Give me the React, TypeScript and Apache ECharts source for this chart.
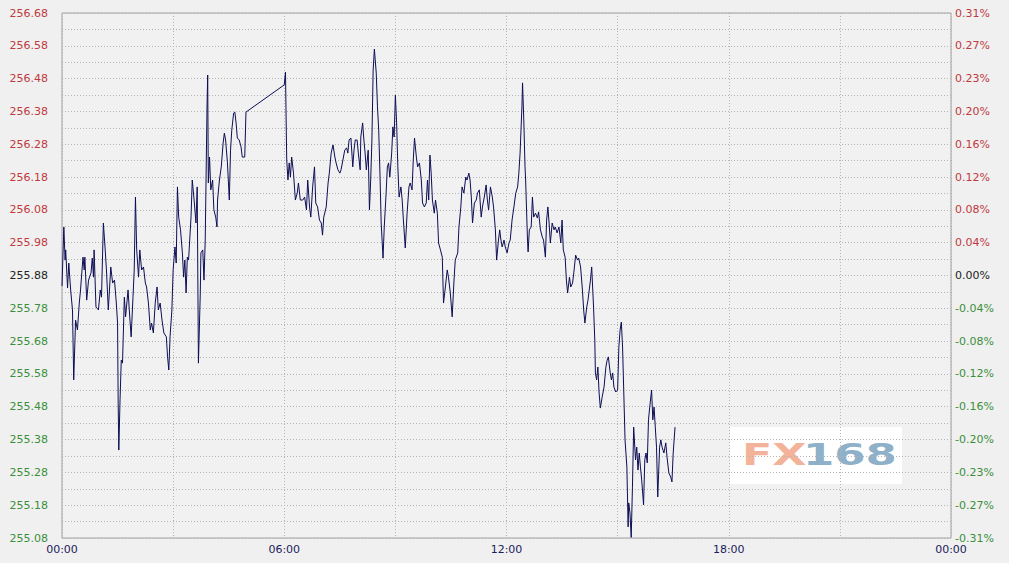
import React, { useEffect, useRef } from "react";
import * as echarts from "echarts";

// Reference price (previous close) used for percent axis
const BASE_PRICE = 255.88;
const PRICE_MIN = 255.08;
const PRICE_MAX = 256.68;
const PRICE_STEP = 0.1;

// Time of each point, minutes after 00:00
const MINUTES = [
  0, 3, 5, 6, 9, 11, 14, 17, 19, 22, 25, 28, 30, 34, 36, 37, 40, 43, 47, 49,
  51, 52, 55, 59, 62, 64, 67, 70, 72, 75, 79, 82, 85, 88, 90, 91, 92, 94, 96, 98,
  101, 103, 107, 109, 112, 115, 117, 119, 121, 124, 126, 129, 132, 135, 137, 140, 143, 145, 148, 151,
  154, 156, 159, 162, 165, 169, 171, 173, 175, 178, 180, 183, 185, 187, 189, 192, 195, 197, 199, 201,
  203, 205, 209, 211, 214, 217, 219, 221, 224, 225, 228, 230, 232, 235, 236, 237, 239, 241, 244, 246,
  249, 251, 252, 255, 258, 261, 263, 265, 268, 271, 273, 275, 278, 280, 282, 284, 287, 290, 292, 296,
  298, 360, 362, 363, 364, 366, 368, 370, 372, 375, 378, 381, 383, 386, 390, 393, 396, 398, 401, 403,
  406, 409, 411, 414, 417, 420, 422, 424, 428, 431, 433, 436, 439, 442, 444, 447, 450, 452, 455, 458,
  461, 463, 465, 468, 471, 473, 475, 478, 480, 483, 484, 487, 489, 491, 493, 496, 498, 500, 502, 504,
  506, 509, 511, 513, 515, 517, 520, 522, 525, 527, 529, 531, 534, 536, 538, 540, 542, 544, 546, 549,
  551, 553, 556, 559, 562, 564, 567, 569, 571, 574, 576, 579, 582, 584, 587, 590, 592, 594, 596, 598,
  600, 603, 605, 608, 610, 613, 616, 618, 621, 624, 626, 629, 632, 635, 637, 641, 643, 646, 648, 651,
  654, 656, 659, 661, 663, 665, 668, 671, 673, 676, 679, 681, 684, 687, 689, 691, 694, 697, 699, 702,
  704, 707, 709, 711, 713, 716, 718, 721, 724, 726, 729, 732, 735, 738, 740, 742, 745, 746, 748, 750,
  751, 754, 755, 757, 760, 762, 764, 767, 770, 772, 775, 778, 780, 783, 785, 787, 789, 791, 794, 797,
  799, 802, 805, 808, 810, 812, 815, 817, 819, 822, 824, 827, 829, 832, 835, 837, 840, 843, 845, 847,
  850, 852, 854, 856, 858, 861, 863, 864, 866, 868, 870, 872, 875, 878, 881, 883, 885, 888, 890, 892,
  894, 897, 900, 902, 904, 906, 908, 910, 912, 915, 917, 918, 920, 922, 924, 926, 929, 931, 933, 935,
  937, 939, 942, 944, 946, 948, 950, 952, 955, 957, 959, 961, 963, 965, 968, 970, 972, 975, 978, 980,
  983, 986, 988, 990, 993,
];

// Price at each point
const PRICES = [
  255.848, 256.028, 255.927, 255.958, 255.842, 255.918, 255.836, 255.775, 255.562, 255.744,
  255.714, 255.796, 255.836, 255.936, 255.897, 255.936, 255.805, 255.866, 255.888, 255.933,
  255.875, 255.958, 255.784, 255.775, 255.836, 255.814, 256.040, 255.958, 255.897, 255.775,
  255.906, 255.857, 255.866, 255.796, 255.735, 255.491, 255.348, 255.501, 255.622, 255.613,
  255.814, 255.754, 255.836, 255.775, 255.693, 255.814, 255.897, 256.119, 255.958, 255.875,
  255.958, 255.897, 255.906, 255.857, 255.845, 255.796, 255.714, 255.735, 255.705, 255.796,
  255.845, 255.775, 255.796, 255.744, 255.705, 255.693, 255.632, 255.592, 255.693, 255.775,
  255.897, 255.967, 255.918, 256.150, 256.058, 256.019, 255.949, 255.875, 255.927, 255.827,
  255.936, 255.927, 256.058, 256.171, 256.110, 256.040, 256.150, 255.613, 255.827, 255.949,
  255.958, 255.866, 255.988, 256.406, 256.491, 256.162, 256.241, 256.141, 256.171, 256.080,
  256.058, 256.028, 256.110, 256.171, 256.211, 256.284, 256.314, 256.293, 256.223, 256.110,
  256.262, 256.323, 256.375, 256.378, 256.345, 256.299, 256.293, 256.272, 256.241, 256.241,
  256.378, 256.461, 256.500, 256.363, 256.232, 256.171, 256.223, 256.180, 256.241, 256.192,
  256.110, 256.131, 256.162, 256.110, 256.110, 256.119, 256.080, 256.171, 256.089, 256.058,
  256.150, 256.211, 256.101, 256.089, 256.049, 256.040, 256.003, 256.058, 256.089, 256.162,
  256.192, 256.253, 256.278, 256.241, 256.223, 256.202, 256.192, 256.202, 256.232, 256.262,
  256.269, 256.253, 256.293, 256.299, 256.211, 256.262, 256.293, 256.293, 256.253, 256.202,
  256.302, 256.345, 256.293, 256.253, 256.202, 256.262, 256.080, 256.171, 256.293, 256.506,
  256.570, 256.497, 256.394, 256.323, 256.192, 256.040, 255.933, 256.028, 256.131, 256.211,
  256.223, 256.180, 256.253, 256.333, 256.302, 256.430, 256.345, 256.211, 256.119, 256.150,
  256.110, 256.049, 255.964, 256.070, 256.150, 256.162, 256.141, 256.232, 256.299, 256.241,
  256.211, 256.223, 256.171, 256.101, 256.089, 256.101, 256.171, 256.110, 256.247, 256.192,
  256.110, 256.070, 256.110, 256.070, 255.979, 255.958, 255.936, 255.796, 255.845, 255.897,
  255.875, 255.827, 255.754, 255.866, 255.927, 255.949, 256.028, 256.089, 256.150, 256.131,
  256.180, 256.171, 256.192, 256.171, 256.119, 256.040, 256.101, 256.110, 256.131, 256.141,
  256.058, 256.089, 256.119, 256.156, 256.110, 256.080, 256.150, 256.119, 256.089, 256.019,
  255.927, 255.988, 256.019, 255.988, 255.967, 255.988, 255.967, 255.949, 255.979, 255.988,
  256.049, 256.089, 256.131, 256.150, 256.192, 256.253, 256.394, 256.467, 256.354, 256.211,
  256.171, 255.988, 255.952, 256.019, 256.028, 256.119, 256.058, 256.070, 256.055, 256.074,
  256.019, 255.997, 255.988, 255.936, 256.049, 256.089, 256.040, 255.979, 256.040, 256.019,
  256.028, 256.010, 256.028, 255.979, 256.049, 255.958, 255.936, 255.866, 255.827, 255.875,
  255.845, 255.857, 255.888, 255.942, 255.927, 255.933, 255.906, 255.836, 255.775, 255.735,
  255.784, 255.805, 255.836, 255.866, 255.906, 255.784, 255.683, 255.583, 255.562, 255.601,
  255.522, 255.476, 255.510, 255.540, 255.601, 255.622, 255.632, 255.583, 255.562, 255.583,
  255.540, 255.525, 255.531, 255.662, 255.714, 255.738, 255.662, 255.522, 255.379, 255.296,
  255.114, 255.187, 255.156, 255.082, 255.235, 255.418, 255.318, 255.357, 255.287, 255.339,
  255.296, 255.257, 255.181, 255.318, 255.339, 255.309, 255.440, 255.479, 255.531, 255.440,
  255.479, 255.418, 255.357, 255.205, 255.357, 255.379, 255.357, 255.339, 255.370, 255.327,
  255.278, 255.266, 255.251, 255.339, 255.418,
];

const UP_COLOR = "#c0393f";
const DOWN_COLOR = "#3b8f3b";
const FLAT_COLOR = "#222222";

function labelColor(v: number) {
  if (v > 1e-9) return UP_COLOR;
  if (v < -1e-9) return DOWN_COLOR;
  return FLAT_COLOR;
}

function fmtTime(m: number) {
  const h = Math.floor(m / 60) % 24;
  const mm = Math.round(m % 60);
  return String(h).padStart(2, "0") + ":" + String(mm).padStart(2, "0");
}

export default function App() {
  const ref = useRef<HTMLDivElement>(null);

  useEffect(() => {
    if (!ref.current) return;
    const chart = echarts.init(ref.current, undefined, { renderer: "svg" });
    const span = PRICE_MAX - BASE_PRICE;
    const data = MINUTES.map((m, i) => [m, PRICES[i] - BASE_PRICE]);
    const gridLine = { show: true, lineStyle: { color: "#b4b4b4", type: [1, 2], width: 1 } };
    const font = "DejaVu Sans";

    chart.setOption({
      animation: false,
      backgroundColor: "#f0f0f0",
      grid: {
        left: 62,
        right: 58,
        top: 13,
        bottom: 25,
        show: true,
        borderColor: "#a0a0a0",
        borderWidth: 1,
        backgroundColor: "#f1f1f1",
      },
      xAxis: {
        type: "value",
        min: 0,
        max: 1440,
        interval: 360,
        axisLine: { show: false },
        axisTick: { show: false },
        splitLine: gridLine,
        minorTick: { show: false, splitNumber: 2 },
        minorSplitLine: gridLine,
        axisLabel: {
          color: "#1c1c5c",
          fontFamily: font,
          fontSize: 11,
          margin: 6,
          formatter: (v: number) => fmtTime(v),
        },
      },
      yAxis: [
        {
          type: "value",
          position: "left",
          min: -span,
          max: span,
          interval: PRICE_STEP,
          axisLine: { show: false },
          axisTick: { show: false },
          splitLine: gridLine,
          minorTick: { show: false, splitNumber: 2 },
          minorSplitLine: gridLine,
          axisLabel: {
            fontFamily: font,
            fontSize: 11,
            margin: 14,
            formatter: (v: number) => (BASE_PRICE + v).toFixed(2),
            color: (v: any) => labelColor(Number(v)),
          },
        },
        {
          type: "value",
          position: "right",
          min: -span,
          max: span,
          interval: PRICE_STEP,
          axisLine: { show: false },
          axisTick: { show: false },
          splitLine: { show: false },
          axisLabel: {
            fontFamily: font,
            fontSize: 11,
            margin: 4,
            formatter: (v: number) => {
              const pct = (v / BASE_PRICE) * 100;
              if (Math.abs(pct) < 1e-9) return "0.00%";
              return pct.toFixed(2) + "%";
            },
            color: (v: any) => labelColor(Number(v)),
          },
        },
      ],
      graphic: [
        {
          type: "group",
          left: 730,
          top: 427,
          z: 10,
          children: [
            { type: "rect", shape: { x: 0, y: 0, width: 172, height: 57 }, style: { fill: "#ffffff" } },
            {
              type: "text",
              x: 12,
              y: 28,
              scaleX: 1.48,
              style: {
                text: "FX",
                fill: "#f3b39b",
                font: "bold 30px 'DejaVu Sans'",
                verticalAlign: "middle",
                textAlign: "left",
              },
            },
            {
              type: "text",
              x: 73,
              y: 28,
              scaleX: 1.5,
              style: {
                text: "168",
                fill: "#8fb0c9",
                font: "bold 30px 'DejaVu Sans'",
                verticalAlign: "middle",
                textAlign: "left",
              },
            },
          ],
        },
      ],
      series: [
        {
          type: "line",
          data,
          yAxisIndex: 0,
          showSymbol: false,
          symbol: "none",
          lineStyle: { color: "#0d0d55", width: 1 },
          z: 5,
        },
      ],
    });
    return () => chart.dispose();
  }, []);

  return (
    <div
      ref={ref}
      style={{ position: "fixed", left: 0, top: 0, width: 1009, height: 563, background: "#f0f0f0" }}
    />
  );
}
